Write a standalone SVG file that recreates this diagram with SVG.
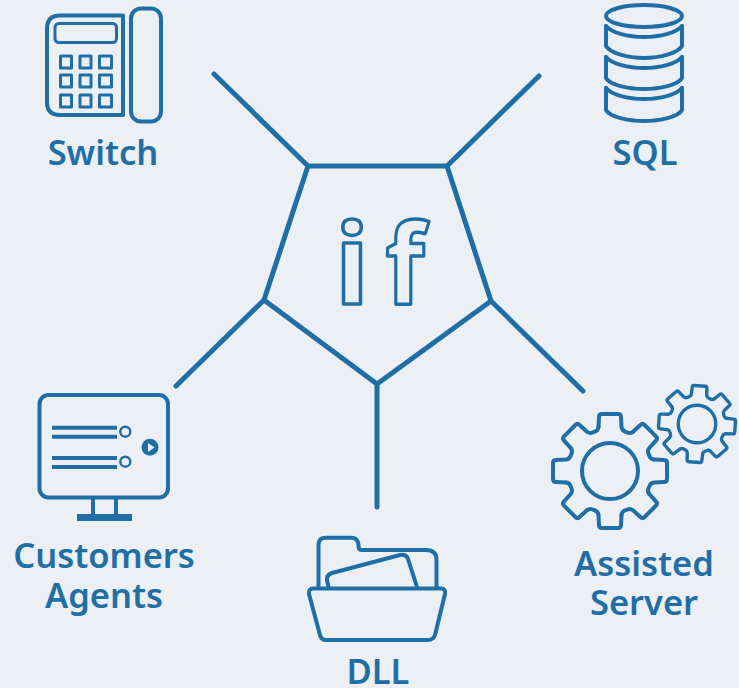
<svg xmlns="http://www.w3.org/2000/svg" xmlns:xlink="http://www.w3.org/1999/xlink" width="739" height="688" viewBox="0 0 739 688">
<style>
.l{fill:none;stroke:#1f6ea6;stroke-linecap:round;stroke-linejoin:round}
.c{stroke-width:5}
.i4{stroke-width:4}
.i3{stroke-width:3}
.t{font-family:"Noto Sans","Open Sans",sans-serif;font-weight:600;font-size:34.500px;fill:#1f6ea6;text-anchor:middle}
.h{font-family:"Noto Sans","Open Sans",sans-serif;font-weight:700;font-size:112px;fill:none;stroke:#1f6ea6;stroke-width:3.500;stroke-linejoin:round;text-anchor:middle}
.f{fill:#1f6ea6}
</style>
<defs>
<path id="tooth" d="M-11.500,-44 L-11,-54 Q-11,-57 -8,-57 L8,-57 Q11,-57 11,-54 L11.500,-44 Q12,-40.500 15,-39.500 L17.300,-38.500 Q20.100,-37.100 23,-39.200"/>
<g id="gear">
<circle r="28"/>
<use xlink:href="#tooth" href="#tooth"/>
<use xlink:href="#tooth" href="#tooth" transform="rotate(45)"/>
<use xlink:href="#tooth" href="#tooth" transform="rotate(90)"/>
<use xlink:href="#tooth" href="#tooth" transform="rotate(135)"/>
<use xlink:href="#tooth" href="#tooth" transform="rotate(180)"/>
<use xlink:href="#tooth" href="#tooth" transform="rotate(225)"/>
<use xlink:href="#tooth" href="#tooth" transform="rotate(270)"/>
<use xlink:href="#tooth" href="#tooth" transform="rotate(315)"/>
</g>
</defs>
<rect width="739" height="688" fill="#ecf0f4"/>
<g id="connectors" class="l c">
<path d="M308,166 L447,166 L491,301 L377,384 L264,300 Z"/>
<path d="M308,166 L214,74"/>
<path d="M447,166 L539,76"/>
<path d="M264,300 L176,386"/>
<path d="M491,301 L583,391"/>
<path d="M377,384 L377,507"/>
</g>
<g id="center">
<text class="h" x="352" y="304">i</text>
<text class="h" transform="translate(405,304) scale(.9,1)">f</text>
</g>
<g id="switch">
<g class="l i4">
<path d="M123,15.500 V115 H60 Q47,115 47,102 V28.500 Q47,15.500 60,15.500 Z"/>
<rect x="131" y="8.500" width="30" height="113" rx="10"/>
</g>
<g class="l i3">
<rect x="55" y="23.500" width="61.500" height="19" rx="4"/>
<rect x="60.500" y="56" width="11" height="12"/><rect x="80" y="56" width="11" height="12"/><rect x="99.500" y="56" width="12" height="12"/>
<rect x="60.500" y="75" width="11" height="12"/><rect x="80" y="75" width="11" height="12"/><rect x="99.500" y="75" width="12" height="12"/>
<rect x="60.500" y="95" width="11" height="12"/><rect x="80" y="95" width="11" height="12"/><rect x="99.500" y="95" width="12" height="12"/>
</g>
<text class="t" x="103" y="165">Switch</text>
</g>
<g id="sql">
<g class="l i4">
<ellipse cx="644" cy="16" rx="38" ry="11"/>
<path d="M606,26 C612,33 628,37 644,37 C660,37 676,33 682,26"/>
<path d="M606,26 V46 C610,53 628,58 644,58 C660,58 678,53 682,46 V26"/>
<path d="M606,57 C612,64 628,68 644,68 C660,68 676,64 682,57"/>
<path d="M606,57 V78 C610,85 628,89 644,89 C660,89 678,85 682,78 V57"/>
<path d="M606,88 C612,95 628,99 644,99 C660,99 676,95 682,88"/>
<path d="M606,88 V110 C610,117 628,121 644,121 C660,121 678,117 682,110 V88"/>
</g>
<text class="t" x="645" y="165">SQL</text>
</g>
<g id="customers">
<g class="l i4">
<rect x="39.500" y="395" width="128.500" height="102.500" rx="9"/>
<path d="M93,498 V514 M116,498 V514"/>
</g>
<rect class="f" x="77" y="514" width="55" height="7"/>
<path d="M52,427.700 H117 M52,436.700 H117 M52,458 H117 M52,467 H117" fill="none" stroke="#1f6ea6" stroke-width="4"/>
<circle cx="125.300" cy="431.700" r="5" fill="none" stroke="#1f6ea6" stroke-width="2.500"/>
<circle cx="125.300" cy="461.700" r="5" fill="none" stroke="#1f6ea6" stroke-width="2.500"/>
<circle class="f" cx="150" cy="447.300" r="8.500"/>
<path d="M148,443 L154.500,447.500 L148,452 Z" fill="#ecf0f4"/>
<text class="t" x="104" y="568">Customers</text>
<text class="t" x="104" y="608">Agents</text>
</g>
<g id="dll">
<g class="l i4">
<path d="M318.500,587 V545 Q318.500,537.700 326,537.700 H351 Q358,537.700 358.500,545 V546 Q358.500,550 362,550 H426 Q436.500,550 436.500,560 V587"/>
<path d="M328.500,587 L327,580 Q326.500,575 332,573 L400,555 Q406,554 408,559 L417,587"/>
<path d="M313,588.500 H441 Q446,588.500 445,594 L435,635 Q433.500,640 428,640 H326 Q321,640 320,635 L309,594 Q308.500,588.500 313,588.500 Z"/>
</g>
<text class="t" x="378" y="684">DLL</text>
</g>
<g id="assisted">
<g class="l i4">
<use xlink:href="#gear" href="#gear" transform="translate(610,471)"/>
</g>
<g class="l" style="stroke-width:5">
<use xlink:href="#gear" href="#gear" transform="translate(697,424) rotate(4) scale(.67)"/>
</g>
<text class="t" x="644" y="576">Assisted</text>
<text class="t" x="644" y="615">Server</text>
</g>
</svg>
